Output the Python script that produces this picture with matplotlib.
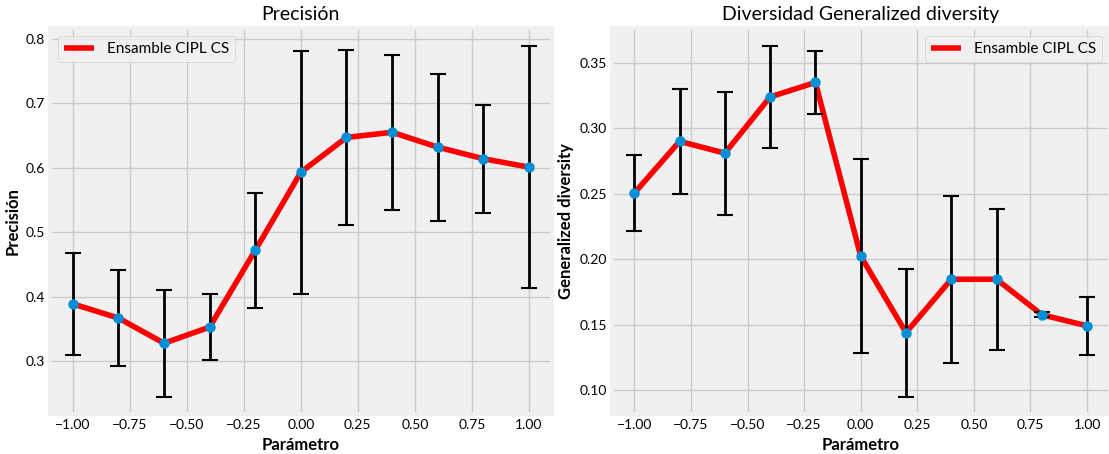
import matplotlib
matplotlib.use("Agg")
import matplotlib.pyplot as plt
import numpy as np

plt.style.use("fivethirtyeight")
plt.rcParams["font.family"] = ["Lato", "DejaVu Sans"]

parametro = [-1.0, -0.8, -0.6, -0.4, -0.2, 0.0, 0.2, 0.4, 0.6, 0.8, 1.0]

precision_mean = [0.389, 0.367, 0.328, 0.353, 0.472, 0.593, 0.647, 0.655, 0.632, 0.614, 0.601]
precision_std = [0.079, 0.074, 0.083, 0.051, 0.089, 0.188, 0.136, 0.120, 0.114, 0.084, 0.188]

diversity_mean = [0.2505, 0.290, 0.281, 0.324, 0.335, 0.2023, 0.1438, 0.1846, 0.1846, 0.1575, 0.149]
diversity_std = [0.029, 0.040, 0.047, 0.039, 0.024, 0.074, 0.049, 0.064, 0.054, 0.002, 0.022]

label = "Ensamble CIPL CS"

W, H = 1109, 454
fig = plt.figure(figsize=(W / 100, H / 100), dpi=100)
fig.patch.set_facecolor("white")
ax_left = fig.add_axes([50 / W, (H - 414.3) / H, 501.7 / W, 386 / H])
ax_right = fig.add_axes([611.7 / W, (H - 414.3) / H, 498 / W, 386 / H])

panels = [
    (ax_left, precision_mean, precision_std, "Precisión", "Precisión", "upper left"),
    (ax_right, diversity_mean, diversity_std, "Diversidad Generalized diversity",
     "Generalized diversity", "upper right"),
]

for ax, mean, std, title, ylabel, loc in panels:
    ax.plot(parametro, mean, color="red", linewidth=4, label=label)
    ax.errorbar(parametro, mean, yerr=std, fmt="o", color="#008fd5",
                ecolor="black", elinewidth=2, capsize=6, capthick=1.5,
                markersize=6.5)
    ax.set_title(title, fontsize=14, pad=6)
    ax.set_xlabel("Parámetro", fontsize=12, fontweight="bold")
    ax.set_ylabel(ylabel, fontsize=12, fontweight="bold")
    ax.tick_params(labelsize=10)
    ax.legend(loc=loc, fontsize=11)

fig.savefig("out.png", dpi=100, facecolor="white")
